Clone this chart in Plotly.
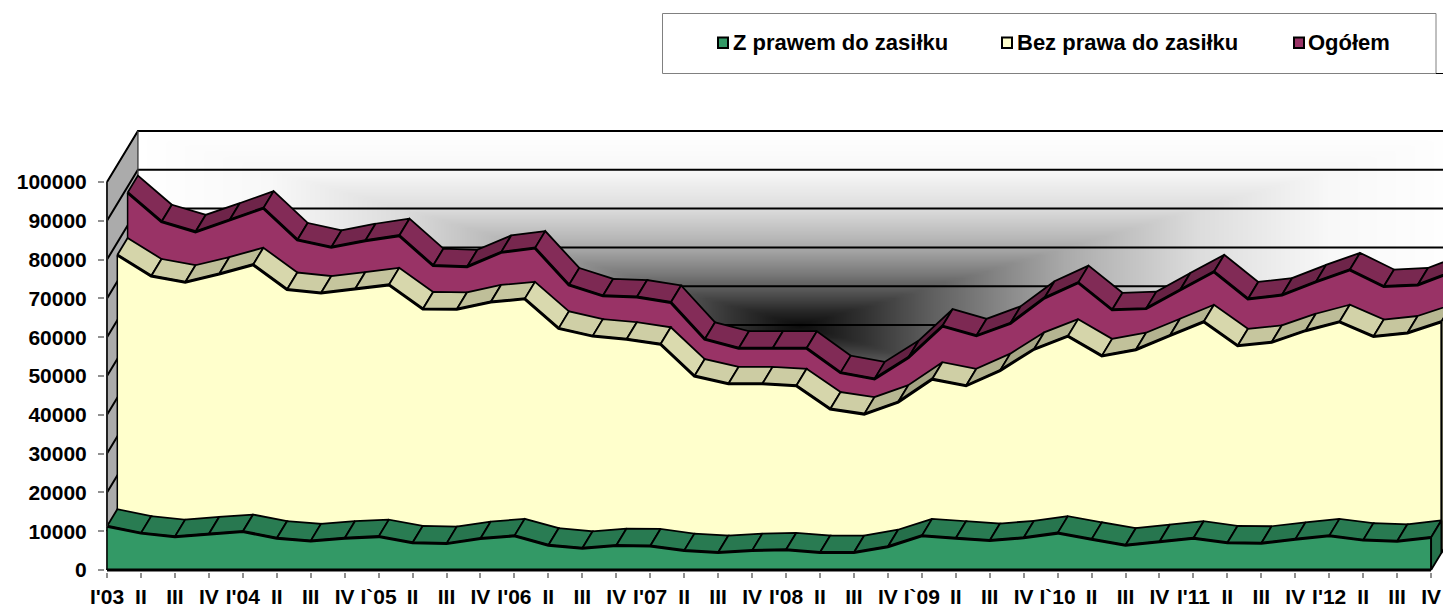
import numpy as np
import plotly.graph_objects as go

# ---------- data ----------
tick_labels = ["I'03","II","III","IV","I'04","II","III","IV","I`05","II","III","IV",
               "I'06","II","III","IV","I'07","II","III","IV","I'08","II","III","IV",
               "I`09","II","III","IV","I`10","II","III","IV","I'11","II","III","IV",
               "I'12","II","III","IV"]
z_prawem = [11300,9500,8600,9300,9900,8200,7500,8200,8600,7000,6800,8100,8800,6400,5600,6300,
            6200,5000,4500,5000,5200,4500,4500,6000,8800,8200,7600,8300,9500,7900,6400,7300,
            8200,7000,6900,7900,8800,7700,7400,8400]
bez_prawa = [76800,71400,69800,71900,74300,67900,67000,68000,69100,62900,62800,64700,65500,57900,
             55900,55100,53800,45600,43600,43600,43100,37100,35800,38900,44800,43100,47000,52500,
             55900,50800,52400,56000,59600,53400,54300,57300,59600,55800,56700,59600]
ogolem = [88500,81000,78400,81400,84500,76300,74400,76100,77400,69700,69400,73100,74200,64700,
          61900,61600,60200,50700,48400,48400,48400,42100,40500,46000,54100,51600,54800,61300,
          65300,58300,58600,63400,68100,61100,62100,65500,68600,64300,64700,68000]
series_names = ["Z prawem do zasiłku", "Bez prawa do zasiłku", "Ogółem"]
y_ticks = list(range(0, 100001, 10000))

# ---------- styling / geometry ----------
W, H = 1443, 607
PX_CAT, PX_K = 33.95, 3.88            # px per category, px per 1000
L, R, T, B = 105, 0, 125, 35
x_rng = [-2/PX_CAT, (W-107)/PX_CAT]
y_rng = [-2/PX_K*1000, (570-T)/PX_K*1000]
DX, DY = 10.3/PX_CAT, 17/PX_K*1000    # depth step of one series
FONT = "Liberation Sans"
colors = ["#339966", "#FFFFCC", "#993366"]

def shade(hex_color, f):
    r, g, b = [int(hex_color[i:i+2], 16) for i in (1, 3, 5)]
    return f"rgb({int(r*f)},{int(g*f)},{int(b*f)})"

def px2paper(px, py):
    return (px-L)/(W-L-R), (H-B-py)/(H-T-B)

fig = go.Figure()
n = len(tick_labels)
idx = np.arange(n)

# back wall with rectangular path gradient
wx = np.arange(3*DX, x_rng[1]+2, 0.25)
wy = np.arange(3*DY, 3*DY+100001, 1000.0)
cx, cy = 3*DX + (n-1)/2, 3*DY + 50000
ax_, ay_ = (n-1)/2, 50000
XX, YY = np.meshgrid(wx, wy)
tt = np.clip(np.maximum(np.abs(XX-cx)/ax_, np.abs(YY-cy)/ay_), 0, 1)
fig.add_trace(go.Heatmap(x=wx, y=wy, z=tt, zmin=0, zmax=1, zsmooth="best", showscale=False, hoverinfo="skip",
    colorscale=[[0,"#0c0c0c"],[0.1,"#333333"],[0.2,"#606060"],[0.4,"#aaaaaa"],
                [0.6,"#dcdcdc"],[0.8,"#f8f8f8"],[1,"#ffffff"]]))

# left side wall
fig.add_trace(go.Scatter(x=[0,3*DX,3*DX,0,0], y=[0,3*DY,100000+3*DY,100000,0], fill="toself",
                         fillcolor="#ababab", mode="lines", line=dict(color="#333333", width=1),
                         hoverinfo="skip", showlegend=False))
# grid lines
for v in y_ticks:
    fig.add_trace(go.Scatter(x=[0,3*DX,x_rng[1]+1], y=[v, v+3*DY, v+3*DY], mode="lines",
                             line=dict(color="#000000", width=2), hoverinfo="skip", showlegend=False))
fig.add_trace(go.Scatter(x=[3*DX,3*DX], y=[3*DY,100000+3*DY], mode="lines",
                         line=dict(color="#555555", width=1), hoverinfo="skip", showlegend=False))

# series, back to front
for depth, vals, col, name in [(2, ogolem, colors[2], series_names[2]),
                               (1, bez_prawa, colors[1], series_names[1]),
                               (0, z_prawem, colors[0], series_names[0])]:
    vals = np.array(vals, float)
    xf = idx + depth*DX
    base = depth*DY
    yf = vals + base
    # top faces
    for i in range(n-1):
        s = (vals[i+1]-vals[i])/1000
        f = 0.8 - 0.026*s if s > 0 else 0.8 - 0.007*s
        fig.add_trace(go.Scatter(
            x=[xf[i], xf[i+1], xf[i+1]+DX, xf[i]+DX, xf[i]],
            y=[yf[i], yf[i+1], yf[i+1]+DY, yf[i]+DY, yf[i]],
            fill="toself", fillcolor=shade(col, f), mode="lines",
            line=dict(color="#000000", width=1.8), hoverinfo="skip", showlegend=False))
    # right end face
    fig.add_trace(go.Scatter(
        x=[xf[-1], xf[-1]+DX, xf[-1]+DX, xf[-1], xf[-1]],
        y=[base, base+DY, yf[-1]+DY, yf[-1], base],
        fill="toself", fillcolor=shade(col, 0.75), mode="lines",
        line=dict(color="#000000", width=1.8), hoverinfo="skip", showlegend=False))
    # front face
    fig.add_trace(go.Scatter(
        x=list(xf)+[xf[-1], xf[0], xf[0]], y=list(yf)+[base, base, yf[0]],
        fill="toself", fillcolor=col, mode="lines", line=dict(color="rgba(0,0,0,0)", width=0),
        name=name, showlegend=False))
    # front edges
    fig.add_trace(go.Scatter(x=xf, y=yf, mode="lines", line=dict(color="#000000", width=3),
                             hoverinfo="skip", showlegend=False))
    fig.add_trace(go.Scatter(x=[xf[0], xf[0]], y=[base, yf[0]], mode="lines",
                             line=dict(color="#000000", width=1.5), hoverinfo="skip", showlegend=False))
    fig.add_trace(go.Scatter(x=[xf[-1], xf[-1]], y=[base, yf[-1]], mode="lines",
                             line=dict(color="#000000", width=2), hoverinfo="skip", showlegend=False))
# base line
fig.add_trace(go.Scatter(x=[0, n-1], y=[0, 0], mode="lines", line=dict(color="#000000", width=3),
                         hoverinfo="skip", showlegend=False))
# wall left edge
fig.add_trace(go.Scatter(x=[0, 0], y=[z_prawem[0], 100000], mode="lines", line=dict(color="#222222", width=2),
                         hoverinfo="skip", showlegend=False))

# legend box drawn to size
shapes, annos = [], []
def rect(x0, y0, x1, y1, **kw):
    a, b = px2paper(x0, y0); c, d = px2paper(x1, y1)
    shapes.append(dict(type="rect", xref="paper", yref="paper", x0=a, y0=b, x1=c, y1=d, **kw))
rect(662.5, 13.5, 1436, 73.5, line=dict(color="#808080", width=1), fillcolor="#ffffff")
p0, p1 = px2paper(1436, 73.5), px2paper(1443, 73.5)
shapes.append(dict(type="line", xref="paper", yref="paper", x0=p0[0], y0=p0[1], x1=p1[0], y1=p1[1],
                   line=dict(color="#000000", width=1)))
for name, col, sx, tx in zip(series_names, colors, [723, 1007, 1299], [731, 1015, 1306]):
    rect(sx-5, 37.5, sx+5, 48, line=dict(color="#000000", width=2), fillcolor=col)
    ax, ay = px2paper(tx, 43)
    annos.append(dict(text=f"<b>{name}</b>", x=ax, y=ay, xref="paper", yref="paper", xanchor="left",
                      yanchor="middle", showarrow=False, font=dict(family=FONT, size=22, color="#000000")))

fig.update_layout(
    width=W, height=H, margin=dict(l=L, r=R, t=T, b=B, pad=0, autoexpand=False),
    paper_bgcolor="#ffffff", plot_bgcolor="#ffffff", showlegend=False, shapes=shapes, annotations=annos,
    xaxis=dict(range=x_rng, tickmode="array", tickvals=list(idx), ticktext=tick_labels, tickangle=0,
               showgrid=False, zeroline=False, showline=False, ticks="outside", ticklen=5, tickwidth=1.5,
               tickcolor="#909090", ticklabelstandoff=1,
               tickfont=dict(family=FONT, size=21, color="#000000", weight=700)),
    yaxis=dict(range=y_rng, tickmode="array", tickvals=y_ticks, ticktext=[str(v) for v in y_ticks],
               showgrid=False, zeroline=False,
               showline=False, ticks="outside", ticklen=6, tickwidth=1.5, tickcolor="#909090",
               ticklabelstandoff=7,
               tickfont=dict(family=FONT, size=21, color="#000000", weight=700)),
)
fig.write_html("out.html", config={"displayModeBar": False},
               post_script="document.body.style.margin='0';document.body.style.overflow='hidden';")
